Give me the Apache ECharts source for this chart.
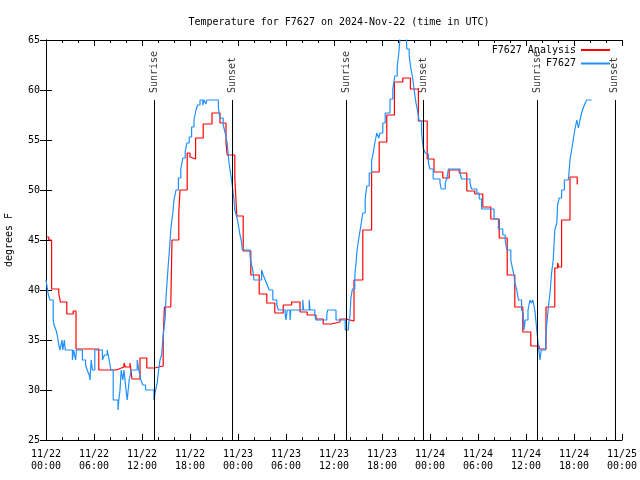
<!DOCTYPE html>
<html>
<head>
<meta charset="utf-8">
<script src="https://cdn.jsdelivr.net/npm/echarts@6/dist/echarts.min.js"></script>
<style>html,body{margin:0;padding:0;background:#fff;}#c{width:640px;height:480px;}</style>
</head>
<body>
<div id="c"></div>
<script>
// hours since 2024-11-22 00:00 UTC
const tickLabels = ['11/22\n00:00','11/22\n06:00','11/22\n12:00','11/22\n18:00','11/23\n00:00','11/23\n06:00','11/23\n12:00','11/23\n18:00','11/24\n00:00','11/24\n06:00','11/24\n12:00','11/24\n18:00','11/25\n00:00'];

const analysisT = [0,0.35,0.7,1.6,1.8,2.6,3.4,3.75,4.75,5.0,6.6,8.75,9.1,9.75,9.9,10.5,10.75,11.75,12.6,13.55,14.65,14.8,15.6,15.75,16.6,16.75,17.65,18.0,18.15,18.7,19.65,20.75,21.75,22.5,22.65,23.6,23.85,24.65,25.6,26.65,27.6,28.6,29.65,30.7,31.75,32.65,33.75,34.65,35.65,36.75,37.5,38.5,39.6,40.7,41.65,42.6,43.55,44.6,45.55,46.55,47.65,48.5,49.6,50.4,51.65,52.6,53.6,54.6,55.6,56.65,57.65,58.6,59.6,60.6,61.65,62.5,63.6,63.95,64.1,64.45,65.5,66.4,66.5];
const analysisV = [45.3,45.0,40.1,39.6,38.8,37.6,37.9,34.1,34.3,34.1,32.0,32.1,32.3,32.7,32.3,32.7,31.1,33.2,32.2,32.4,35.1,38.3,38.6,45.0,47.8,50.0,53.7,53.3,53.1,55.2,56.6,57.7,56.7,54.7,53.5,51.2,47.4,43.9,41.5,39.6,38.7,37.7,38.5,38.8,37.8,37.5,37.1,36.6,36.8,37.1,36.9,41.0,46.0,51.8,54.8,57.5,60.8,61.2,60.1,56.9,53.1,51.8,51.2,52.0,51.7,49.9,49.6,48.3,47.1,45.2,41.5,38.3,35.8,34.4,34.1,38.3,42.2,42.7,42.3,47.0,51.3,50.6,50.6];

const obsT = [0,0.2,0.3,0.5,0.9,1.0,1.25,1.4,1.6,1.75,2.0,2.1,2.3,2.4,2.6,3.3,3.45,3.7,3.8,4.1,4.55,4.95,5.15,5.4,5.5,5.65,5.8,6.0,6.1,7.05,7.3,7.65,7.9,8.1,8.4,9.0,9.1,9.25,9.4,9.6,9.75,10.0,10.15,10.4,10.65,11.4,11.6,11.85,12.1,12.45,13.5,13.7,13.9,14.05,14.25,14.45,14.65,14.9,15.0,15.15,15.3,15.4,15.6,15.7,15.85,16.0,16.25,16.55,16.85,17.1,17.4,17.6,17.9,18.2,18.5,18.75,18.95,19.25,19.6,19.75,20.0,20.1,21.55,21.75,22.15,22.4,22.65,22.8,23.0,23.2,23.35,23.5,23.6,23.85,24.05,24.25,24.4,24.55,25.5,25.6,25.85,26.0,26.95,27.15,27.4,27.65,27.9,28.35,28.85,29.05,29.9,30.0,30.15,30.5,30.6,31.4,32.1,32.2,32.9,33.0,33.6,33.75,35.1,35.2,36.25,37.4,37.8,38.0,38.1,38.3,38.6,38.75,38.9,39.15,39.35,39.6,39.9,40.1,40.4,40.7,40.9,41.1,41.35,41.6,41.75,42.1,42.4,43.0,43.35,43.6,43.9,44.15,44.35,44.75,45.0,45.1,45.4,45.6,45.85,46.0,46.25,46.4,46.65,46.95,47.15,47.4,47.5,47.8,48.0,48.4,49.25,49.4,49.9,50.1,50.3,51.75,51.95,53.0,53.2,53.85,54.15,54.45,56.0,56.55,57.1,57.4,57.6,58.1,58.35,58.5,58.6,58.85,59.05,59.45,59.65,59.75,59.9,60.1,60.25,60.5,60.7,60.85,61.1,61.35,61.45,61.6,61.75,61.9,62.45,62.6,62.8,63.0,63.2,63.4,63.6,63.85,63.95,64.15,64.45,64.8,65.3,65.5,65.7,65.9,66.1,66.35,66.55,66.75,66.95,67.15,67.4,67.6,68.2];
const obsV = [41.0,40.0,39.5,39.0,37.0,36.5,36.0,35.5,34.5,34.0,35.0,34.0,35.0,34.0,34.0,33.0,34.0,33.0,34.0,34.0,33.0,32.5,32.0,31.5,31.0,33.0,32.0,32.0,34.0,33.0,33.5,34.0,33.0,32.0,29.0,28.0,29.0,30.0,32.0,31.0,32.0,30.0,29.0,31.0,32.0,33.0,32.0,31.0,30.5,30.0,29.0,30.0,30.7,31.8,33.0,33.5,35.5,37.2,39.3,41.0,42.7,43.7,46.0,46.8,47.7,49.0,50.0,51.2,52.1,53.2,53.8,54.7,55.3,56.3,57.0,58.0,58.5,59.0,58.5,59.0,58.6,59.0,58.2,57.2,56.5,55.7,54.7,53.3,52.0,51.0,50.0,49.0,48.0,47.3,46.5,45.5,45.0,44.0,43.5,42.8,42.0,41.0,42.0,41.5,41.0,40.5,40.0,39.0,38.5,38.0,37.5,37.0,38.0,37.0,38.0,38.0,39.0,38.0,39.0,38.0,37.5,37.0,37.5,38.0,37.0,36.0,36.4,37.4,39.1,40.1,41.4,42.7,44.1,45.4,46.4,47.7,49.1,50.4,51.7,52.9,53.7,54.7,55.7,55.2,55.7,56.7,57.7,59.1,60.1,61.4,62.3,64.1,66.5,67.0,66.0,64.1,63.4,62.2,61.1,60.1,58.7,58.1,56.9,55.7,54.2,53.7,53.6,52.7,52.1,51.1,50.7,50.1,50.7,51.1,52.1,51.7,51.1,50.7,50.1,49.7,49.1,48.1,47.1,46.1,45.5,45.0,44.0,43.0,42.0,41.5,40.7,40.0,39.0,38.0,37.7,36.0,37.0,37.0,38.0,39.0,38.7,39.0,38.0,36.0,35.2,34.0,33.0,34.0,35.0,36.7,38.3,39.7,41.7,43.0,46.0,46.7,48.5,49.2,50.0,51.0,51.2,53.0,54.0,55.0,56.0,57.0,56.2,57.0,57.7,58.2,58.7,59.0,59.0];

const sunT = [13.5, 23.3, 37.55, 47.15, 61.4, 71.1];
const sunLabels = ['Sunrise','Sunset','Sunrise','Sunset','Sunrise','Sunset'];

const FONT = 'DejaVu Sans Mono';
const chart = echarts.init(document.getElementById('c'), null, {renderer: 'canvas'});
const zip = (a, b) => a.map((t, i) => [t, b[i]]);

const axisCommon = {
  axisLine: {show: true, lineStyle: {color: '#000', width: 1}},
  splitLine: {show: false}
};
const legendCommon = {
  orient: 'vertical', align: 'right', right: 30, icon: 'rect',
  itemWidth: 29, itemHeight: 2, itemGap: 3, padding: 0,
  textStyle: {fontFamily: FONT, fontSize: 10, color: '#000'}
};

chart.setOption({
  animation: false,
  backgroundColor: '#fff',
  title: {
    text: 'Temperature for F7627 on 2024-Nov-22 (time in UTC)',
    left: 334, top: 12, textAlign: 'center',
    textStyle: {fontFamily: FONT, fontSize: 10, fontWeight: 'normal', color: '#000'}
  },
  legend: [
    Object.assign({}, legendCommon, {data: ['F7627 Analysis'], top: 45}),
    Object.assign({}, legendCommon, {data: ['F7627'], top: 58.5})
  ],
  grid: {left: 46, right: 18, top: 40, bottom: 40, containLabel: false, outerBoundsMode: 'none'},
  xAxis: [
    Object.assign({}, axisCommon, {
      type: 'value', min: 0, max: 72, interval: 6, position: 'bottom',
      axisTick: {inside: true, length: 6, lineStyle: {color: '#000'}},
      minorTick: {show: true, splitNumber: 3, length: 3, lineStyle: {color: '#000'}},
      axisLabel: {
        fontFamily: FONT, fontSize: 10, color: '#000', margin: 8, lineHeight: 12,
        formatter: v => tickLabels[Math.round(v / 6)] || ''
      }
    }),
    Object.assign({}, axisCommon, {
      type: 'value', min: 0, max: 72, interval: 6, position: 'top',
      axisTick: {inside: true, length: 6, lineStyle: {color: '#000'}},
      minorTick: {show: true, splitNumber: 3, length: 3, lineStyle: {color: '#000'}},
      axisLabel: {show: false}
    })
  ],
  yAxis: [
    Object.assign({}, axisCommon, {
      type: 'value', min: 25, max: 65, interval: 5, position: 'left',
      name: 'degrees F', nameLocation: 'middle', nameRotate: 90, nameGap: 32,
      nameTextStyle: {fontFamily: FONT, fontSize: 10, color: '#000'},
      axisTick: {inside: true, length: 6, lineStyle: {color: '#000'}},
      axisLabel: {fontFamily: FONT, fontSize: 10, color: '#000', margin: 6}
    }),
    Object.assign({}, axisCommon, {
      type: 'value', min: 25, max: 65, interval: 5, position: 'right',
      axisTick: {inside: true, length: 6, lineStyle: {color: '#000'}},
      axisLabel: {show: false}
    })
  ],
  series: [
    {
      name: 'F7627 Analysis', type: 'line', step: 'end', data: zip(analysisT, analysisV),
      symbol: 'none', clip: true, color: '#ff0000',
      lineStyle: {color: '#ff0000', width: 1.2}
    },
    {
      name: 'F7627', type: 'line', step: 'end', data: zip(obsT, obsV),
      symbol: 'none', clip: true, color: '#1e90ff',
      lineStyle: {color: '#1e90ff', width: 1.2}
    },
    {
      name: 'sun', type: 'scatter', symbolSize: 0, silent: true,
      data: sunT.map((t, i) => [t, 59, sunLabels[i]]),
      label: {
        show: true, formatter: p => p.data[2], rotate: 90,
        position: [0, -7], align: 'left', verticalAlign: 'middle',
        fontFamily: FONT, fontSize: 10, color: '#000'
      },
      markLine: {
        silent: true, symbol: ['none', 'none'], animation: false,
        label: {show: false},
        lineStyle: {color: '#000', type: 'solid', width: 1},
        data: sunT.map(t => [{coord: [t, 25]}, {coord: [t, 59]}])
      }
    }
  ]
});
</script>
</body>
</html>
